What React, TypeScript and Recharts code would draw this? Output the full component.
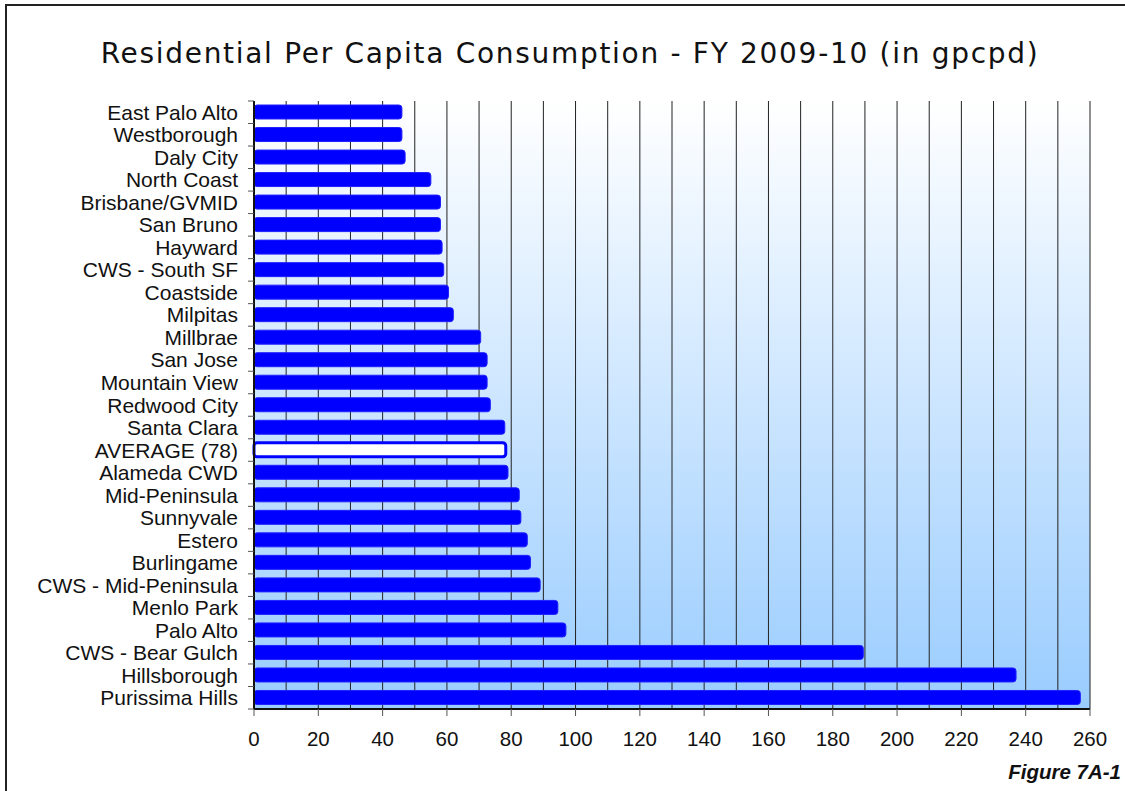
import * as React from 'react';
import { Bar, BarChart, CartesianGrid, Cell, XAxis, YAxis } from 'recharts';

const utilities = [
  'East Palo Alto', 'Westborough', 'Daly City', 'North Coast', 'Brisbane/GVMID',
  'San Bruno', 'Hayward', 'CWS - South SF', 'Coastside', 'Milpitas',
  'Millbrae', 'San Jose', 'Mountain View', 'Redwood City', 'Santa Clara',
  'AVERAGE (78)', 'Alameda CWD', 'Mid-Peninsula', 'Sunnyvale', 'Estero',
  'Burlingame', 'CWS - Mid-Peninsula', 'Menlo Park', 'Palo Alto', 'CWS - Bear Gulch',
  'Hillsborough', 'Purissima Hills',
];
const gpcpd = [
  46, 46, 47, 55, 58,
  58, 58.5, 59, 60.5, 62,
  70.5, 72.5, 72.5, 73.5, 78,
  78.3, 79, 82.5, 83, 85,
  86, 89, 94.5, 97, 189.5,
  237, 257,
];
const gridTicks = [0, 10, 20, 30, 40, 50, 60, 70, 80, 90, 100, 110, 120, 130, 140, 150, 160, 170, 180, 190, 200, 210, 220, 230, 240, 250, 260];
const averageLabel = 'AVERAGE (78)';

const data = utilities.map((name, i) => ({ name, value: gpcpd[i] }));

const W = 1125;
const H = 791;
const LEFT = 254;
const TOP = 101;
const RIGHT = 1090;
const BOTTOM = 709;
const BAND = (BOTTOM - TOP) / utilities.length;
const FONT = '"Liberation Sans", Arial, sans-serif';

function YTick(props: any) {
  const { y, payload, index } = props;
  const top = y - BAND / 2;
  return (
    <g>
      <line x1={LEFT - 6} x2={LEFT} y1={top} y2={top} stroke="#555" />
      {index === utilities.length - 1 && (
        <line x1={LEFT - 6} x2={LEFT} y1={y + BAND / 2} y2={y + BAND / 2} stroke="#555" />
      )}
      <text x={LEFT - 16} y={y} dy={7.5} textAnchor="end" fontFamily={FONT} fontSize={21} fill="#111">
        {payload.value}
      </text>
    </g>
  );
}

function XTick(props: any) {
  const { x, payload } = props;
  if (payload.value % 20 !== 0) return null;
  return (
    <g>
      <line x1={x} x2={x} y1={BOTTOM} y2={BOTTOM + 7} stroke="#555" />
      <text x={x} y={BOTTOM + 37} textAnchor="middle" fontFamily={FONT} fontSize={20.5} fill="#111">
        {payload.value}
      </text>
    </g>
  );
}

export default function App() {
  return (
    <div style={{ position: 'absolute', left: 0, top: 0, width: W, height: H, overflow: 'hidden', background: '#fff' }}>
      <div style={{ position: 'absolute', left: 5, top: 4, width: W + 20, height: H + 20, border: '2px solid #222' }} />
      <div
        style={{
          position: 'absolute', left: 0, top: 37, width: 1140, textAlign: 'center', lineHeight: 'normal',
          fontFamily: '"DejaVu Sans", Verdana, sans-serif', fontSize: 28, letterSpacing: 1.7, color: '#111',
        }}
      >
        Residential Per Capita Consumption - FY 2009-10 (in gpcpd)
      </div>
      <div
        style={{
          position: 'absolute', right: 4, top: 760, fontFamily: FONT, fontSize: 20.5,
          fontWeight: 'bold', fontStyle: 'italic', color: '#111',
        }}
      >
        Figure 7A-1
      </div>
      <div style={{ position: 'absolute', left: 0, top: 0 }}>
        <BarChart
          width={W}
          height={H}
          data={data}
          layout="vertical"
          barSize={14}
          margin={{ top: TOP, right: W - RIGHT, left: 4, bottom: H - BOTTOM - 40 }}
        >
          <defs>
            <linearGradient id="plotBg" x1="0" y1="0" x2="0" y2="1">
              <stop offset="0%" stopColor="#ffffff" />
              <stop offset="100%" stopColor="#99ccff" />
            </linearGradient>
          </defs>
          <CartesianGrid horizontal={false} fill="url(#plotBg)" stroke="#222" strokeWidth={1} />
          <XAxis
            type="number"
            domain={[0, 260]}
            ticks={gridTicks}
            interval={0}
            height={40}
            tick={<XTick />}
            tickLine={false}
            axisLine={{ stroke: '#111', strokeWidth: 2 }}
          />
          <XAxis
            xAxisId="top"
            orientation="top"
            type="number"
            domain={[0, 260]}
            height={0}
            tick={false}
            tickLine={false}
            axisLine={{ stroke: '#111', strokeWidth: 1.5 }}
          />
          <YAxis
            type="category"
            dataKey="name"
            width={250}
            interval={0}
            tick={<YTick />}
            tickLine={false}
            axisLine={{ stroke: '#111', strokeWidth: 2 }}
          />
          <Bar dataKey="value" isAnimationActive={false} radius={3}>
            {data.map((d) => (
              <Cell
                key={d.name}
                fill={d.name === averageLabel ? '#ffffff' : '#0000ff'}
                stroke={d.name === averageLabel ? '#0000ff' : '#2020ff'}
                strokeWidth={d.name === averageLabel ? 3 : 1}
              />
            ))}
          </Bar>
        </BarChart>
      </div>
    </div>
  );
}
